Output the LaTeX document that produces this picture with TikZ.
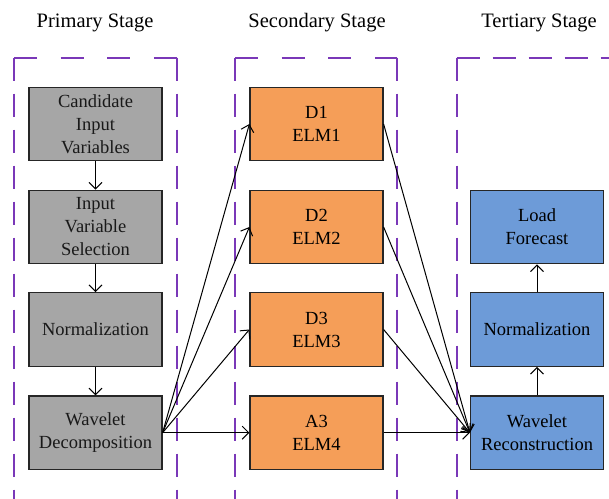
\documentclass[tikz,border=0pt]{standalone}
\usepackage{fontspec}
\setmainfont{Liberation Serif}
\usetikzlibrary{arrows.meta}
\definecolor{grayfill}{HTML}{A6A6A6}
\definecolor{orangefill}{HTML}{F59E58}
\definecolor{bluefill}{HTML}{6D9BD8}
\definecolor{stagepurple}{HTML}{7A38B8}
\tikzset{
  stageline/.style={draw=stagepurple, line width=1.7pt, dash pattern=on 23pt off 13pt},
  stagetop/.style={draw=stagepurple, line width=1.7pt, dash pattern=on 23pt off 23.6pt},
  stagetitle/.style={font=\rmfamily\fontsize{20.5}{24}\selectfont, anchor=base},
  procbox/.style={draw=black!85, line width=1.2pt, minimum width=133pt, minimum height=73.5pt,
    align=center, inner sep=0pt, font=\rmfamily\fontsize{18.5}{23}\selectfont},
  graybox/.style={procbox, fill=grayfill, text=black!90},
  orangebox/.style={procbox, fill=orangefill},
  bluebox/.style={procbox, fill=bluefill},
  conn/.style={line width=1pt, draw=black, -{Straight Barb[length=6.5pt,width=13pt]}}
}
\begin{document}
\begin{tikzpicture}[x=1pt,y=-1pt]
\clip (0,0) rectangle (609,498);
% titles
\node[stagetitle] (t1) at (95,27.3) {Primary Stage};
\node[stagetitle] (t2) at (317,27.3) {Secondary Stage};
\node[stagetitle] (t3) at (539,27.3) {Tertiary Stage};
% dashed stage frames
\coordinate (l1) at (14,57.7);
\coordinate (r1) at (177,57.7);
\coordinate (l2) at (235,57.7);
\coordinate (r2) at (397.3,57.7);
\coordinate (l3) at (456.7,57.7);
\draw[stageline] (l1) -- (14,520);
\draw[stageline] (r1) -- (177,520);
\draw[stagetop] (l1) -- (r1);
\draw[stageline] (l2) -- (235,520);
\draw[stageline] (r2) -- (397.3,520);
\draw[stagetop] (l2) -- (r2);
\draw[stageline] (l3) -- (456.7,520);
\draw[stageline] (l3) -- (640,57.7);
% primary
\node[graybox] (g1) at (95.5,124) {Candidate\\Input\\Variables};
\node[graybox] (g2) at (95.5,227) {Input\\Variable\\Selection};
\node[graybox] (g3) at (95.5,329.5) {Normalization};
\node[graybox] (g4) at (95.5,432.7) {Wavelet\\Decomposition};
% secondary
\node[orangebox] (o1) at (316.5,124) {D1\\ELM1};
\node[orangebox] (o2) at (316.5,227) {D2\\ELM2};
\node[orangebox] (o3) at (316.5,329.5) {D3\\ELM3};
\node[orangebox] (o4) at (316.5,432.7) {A3\\ELM4};
% tertiary
\node[bluebox] (b1) at (537,227) {Load\\Forecast};
\node[bluebox] (b2) at (537,329.5) {Normalization};
\node[bluebox] (b3) at (537,432.7) {Wavelet\\Reconstruction};
% connectors
\draw[conn] (g1) -- (g2);
\draw[conn] (g2) -- (g3);
\draw[conn] (g3) -- (g4);
\foreach \o in {o1,o2,o3,o4}{
  \draw[conn] (g4.east) -- (\o.west);
  \draw[conn] (\o.east) -- (b3.west);
}
\draw[conn] (b3) -- (b2);
\draw[conn] (b2) -- (b1);
\end{tikzpicture}
\end{document}
